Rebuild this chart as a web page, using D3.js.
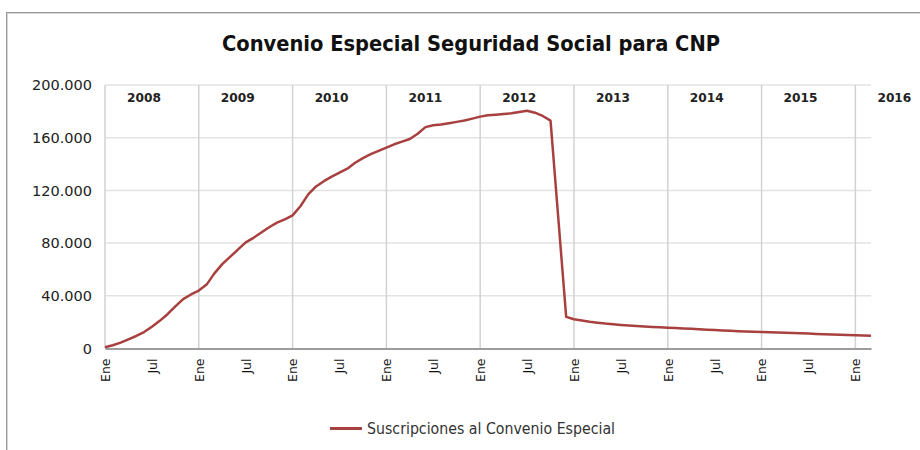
<!DOCTYPE html>
<html>
<head>
<meta charset="utf-8">
<script src="https://cdn.jsdelivr.net/npm/d3@7"></script>
<style>
  html, body { margin: 0; padding: 0; background: #fff; }
  svg { display: block; }
</style>
</head>
<body>
<svg id="chart" width="920" height="450"></svg>
<script>
// Monthly suscriptions, January 2008 through March 2016
const years = ["2008", "2009", "2010", "2011", "2012", "2013", "2014", "2015", "2016"];
const monthTickLabels = ["Ene", "Jul"];
const yTicks = [0, 40000, 80000, 120000, 160000, 200000];
const seriesName = "Suscripciones al Convenio Especial";

const suscripciones = [
  // 2008
  1000, 2500, 4500, 7000, 9500, 12500, 16500, 21000, 26000, 32000, 37500, 41000,
  // 2009
  44000, 48500, 57000, 64000, 69500, 75000, 80500, 84000, 88000, 92000, 95500, 98000,
  // 2010
  101000, 108000, 117000, 123000, 127000, 130500, 133500, 136500, 141000, 144500, 147500, 150000,
  // 2011
  152500, 155000, 157000, 159000, 163000, 168000, 169500, 170000, 171000, 172000, 173000, 174500,
  // 2012
  176000, 177000, 177500, 178000, 178500, 179500, 180500, 179000, 176500, 173000, 98500, 24000,
  // 2013
  22200, 21300, 20300, 19600, 18900, 18400, 17900, 17500, 17100, 16700, 16400, 16100,
  // 2014
  15800, 15500, 15200, 14900, 14600, 14300, 14000, 13700, 13400, 13100, 12900, 12700,
  // 2015
  12500, 12300, 12100, 11900, 11700, 11500, 11300, 11100, 10900, 10700, 10500, 10300,
  // 2016
  10100, 9900, 9700
];

const svg = d3.select("#chart");
const plot = { left: 105, right: 871, top: 85, bottom: 348.5 };
const FONT = "'DejaVu Sans', Verdana, sans-serif";

// Outer frame (runs off the right and bottom edges)
svg.append("rect").attr("x", 6.5).attr("y", 12.5).attr("width", 960).attr("height", 480)
  .attr("fill", "none").attr("stroke", "#9a9a9a").attr("stroke-width", 1);
svg.append("rect").attr("x", 7.5).attr("y", 13.5).attr("width", 960).attr("height", 480)
  .attr("fill", "none").attr("stroke", "#d6d6d6").attr("stroke-width", 1);

// Title
svg.append("text")
  .attr("x", 471).attr("y", 51)
  .attr("text-anchor", "middle")
  .attr("font-family", FONT)
  .attr("font-weight", "bold")
  .attr("font-size", 20.5)
  .attr("textLength", 498)
  .attr("lengthAdjust", "spacingAndGlyphs")
  .attr("fill", "#111")
  .text("Convenio Especial Seguridad Social para CNP");

const x = d3.scaleLinear().domain([0, suscripciones.length - 1]).range([plot.left, plot.right]);
const y = d3.scaleLinear().domain([0, 200000]).range([plot.bottom, plot.top]);

const g = svg.append("g");

// Horizontal grid
g.append("g").selectAll("line").data(yTicks.filter(v => v > 0)).join("line")
  .attr("x1", plot.left).attr("x2", plot.right)
  .attr("y1", d => y(d)).attr("y2", d => y(d))
  .attr("stroke", "#e3e3e3").attr("stroke-width", 1.5);

// Vertical grid at each January
const janIdx = d3.range(0, suscripciones.length, 12);
g.append("g").selectAll("line").data(janIdx).join("line")
  .attr("x1", d => x(d)).attr("x2", d => x(d))
  .attr("y1", plot.top).attr("y2", plot.bottom)
  .attr("stroke", "#d2d2d2").attr("stroke-width", 1.5);

// Y axis labels
const yAxis = d3.axisLeft(y).tickValues(yTicks).tickSize(0).tickPadding(13)
  .tickFormat(d => d3.format(",")(d).replace(/,/g, "."));
const ya = svg.append("g").attr("transform", `translate(${plot.left},0)`).call(yAxis);
ya.select(".domain").remove();
ya.selectAll("text")
  .attr("font-family", FONT)
  .attr("font-size", 14.5).attr("fill", "#222");

// X axis: Ene / Jul ticks, rotated
const monthTicks = d3.range(0, suscripciones.length, 6);
const xAxis = d3.axisBottom(x).tickValues(monthTicks).tickSize(0)
  .tickFormat(d => monthTickLabels[(d % 12) / 6]);
const xa = svg.append("g").attr("transform", `translate(0,${plot.bottom})`).call(xAxis);
xa.select(".domain").attr("stroke", "#9c9c9c").attr("stroke-width", 2);
xa.selectAll("text")
  .attr("font-family", FONT)
  .attr("font-size", 12.5).attr("fill", "#111")
  .attr("transform", "rotate(-90)")
  .attr("text-anchor", "end")
  .attr("x", -10).attr("y", 0).attr("dy", "0.35em");

// Year labels along the top of the plot
svg.append("g").selectAll("text").data(years).join("text")
  .attr("x", (d, i) => Math.min(x(i * 12 + 6), x(i * 12) + 39))
  .attr("y", 102)
  .attr("text-anchor", "middle")
  .attr("font-family", FONT)
  .attr("font-weight", "bold")
  .attr("font-size", 12.2)
  .attr("fill", "#222")
  .text(d => d);

// Series line
const lineColor = "#a8403f";
const line = d3.line().x((d, i) => x(i)).y(d => y(d));
svg.append("path")
  .datum(suscripciones)
  .attr("d", line)
  .attr("fill", "none")
  .attr("stroke", lineColor)
  .attr("stroke-width", 2.5)
  .attr("stroke-linejoin", "round");

// Legend
const lg = svg.append("g");
lg.append("line").attr("x1", 330).attr("x2", 362).attr("y1", 428.5).attr("y2", 428.5)
  .attr("stroke", lineColor).attr("stroke-width", 3);
lg.append("text").attr("x", 367).attr("y", 433.5)
  .attr("font-family", FONT)
  .attr("font-size", 15)
  .attr("textLength", 248)
  .attr("lengthAdjust", "spacingAndGlyphs")
  .attr("fill", "#333")
  .text(seriesName);
</script>
</body>
</html>
